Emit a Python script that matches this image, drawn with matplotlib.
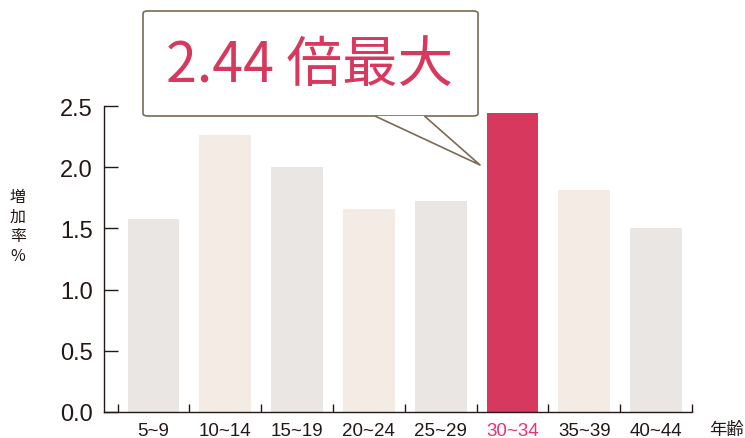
import matplotlib
matplotlib.use("Agg")
import matplotlib.pyplot as plt
from matplotlib.patches import FancyBboxPatch, Polygon
from matplotlib.lines import Line2D

plt.rcParams['font.family'] = ['Liberation Sans', 'Noto Sans CJK JP', 'DejaVu Sans']

# age groups and increase rate
ages = ["5~9", "10~14", "15~19", "20~24", "25~29", "30~34", "35~39", "40~44"]
rates = [1.58, 2.26, 2.00, 1.66, 1.72, 2.44, 1.81, 1.50]
colors = ["#e9e6e3", "#f3ebe4", "#e9e6e3", "#f3ebe4", "#e9e6e3", "#d6395d", "#f3ebe4", "#e9e6e3"]
highlight = 5

dark = "#231815"
W, H = 745, 439

fig = plt.figure(figsize=(W / 100, H / 100), dpi=100)
ax = fig.add_axes([104 / W, 26 / H, (692 - 104) / W, (413 - 107) / H])

x = list(range(len(ages)))
ax.bar(x, rates, width=0.72, color=colors, zorder=2)

ax.set_xlim(-0.69, 7.5)
ax.set_ylim(0, 2.5)

for s in ["top", "right"]:
    ax.spines[s].set_visible(False)
for s in ["left", "bottom"]:
    ax.spines[s].set_color(dark)
    ax.spines[s].set_linewidth(1.0)

ax.set_yticks([0, 0.5, 1.0, 1.5, 2.0, 2.5])
ax.set_yticklabels(["0.0", "0.5", "1.0", "1.5", "2.0", "2.5"])
ax.tick_params(axis="y", direction="in", length=10, width=1.0, color=dark,
               labelsize=17, labelcolor=dark, pad=8)

ax.set_xticks(x)
ax.set_xticklabels(ages)
ax.set_xticks([i - 0.5 for i in range(len(ages) + 1)], minor=True)
ax.tick_params(axis="x", which="major", length=0, labelsize=13.5, labelcolor=dark, pad=7)
ax.tick_params(axis="x", which="minor", direction="in", length=6, width=1.0, color=dark)
ax.get_xticklabels()[highlight].set_color("#e8336e")

# axis titles
fig.text(18 / W, 1 - 227 / H, "増\n加\n率\n%", ha="center", va="center",
         fontsize=11.5, color=dark, linespacing=1.2,
         family=['Noto Sans CJK JP', 'DejaVu Sans'])
fig.text(726 / W, 1 - 430 / H, "年齢", ha="center", va="center",
         fontsize=12.5, color=dark, family=['Noto Sans CJK JP', 'DejaVu Sans'])

# callout box
edge = "#7a6a55"
def fx(px):
    return px / W
def fy(py):
    return 1 - py / H

box = FancyBboxPatch((fx(143), fy(117)), fx(478) - fx(143), fy(12) - fy(117),
                     boxstyle="round,pad=0,rounding_size=0.006",
                     transform=fig.transFigure, facecolor="white",
                     edgecolor=edge, linewidth=1.2, zorder=5)
fig.add_artist(box)
wedge = Polygon([(fx(376), fy(117)), (fx(480), fy(166)), (fx(425), fy(117))],
                closed=True, transform=fig.transFigure, facecolor="white",
                edgecolor="none", zorder=6)
fig.add_artist(wedge)
fig.add_artist(Line2D([fx(376), fx(480), fx(425)], [fy(117.5), fy(166), fy(117.5)],
                      transform=fig.transFigure, color=edge, linewidth=1.2, zorder=7))
fig.text(fx(310), fy(66), "2.44 倍最大", ha="center", va="center",
         fontsize=40, color="#d6395d", zorder=8,
         family=['Noto Sans CJK JP', 'DejaVu Sans'])

fig.savefig("out.png", dpi=100)
